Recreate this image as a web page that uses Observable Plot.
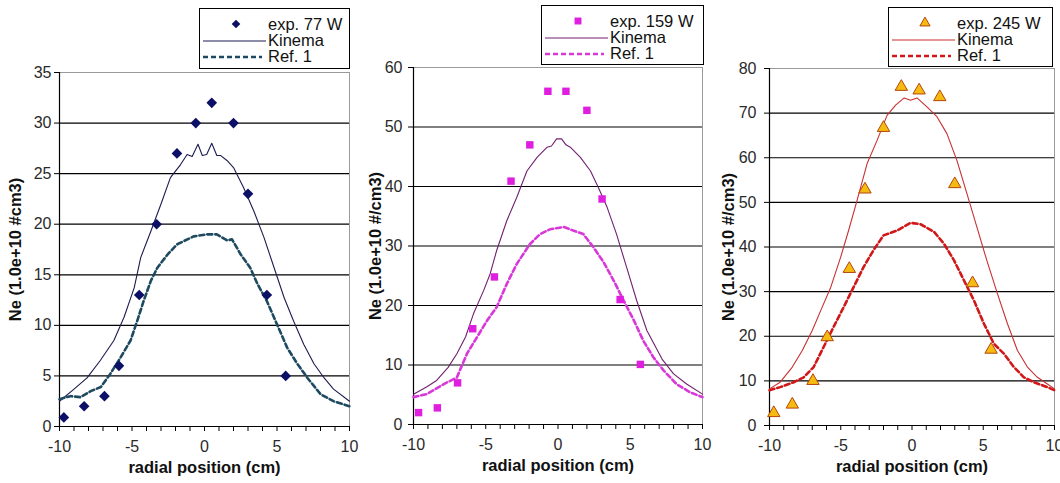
<!DOCTYPE html>
<html>
<head>
<meta charset="utf-8">
<script src="https://cdn.jsdelivr.net/npm/d3@7"></script>
<script src="https://cdn.jsdelivr.net/npm/@observablehq/plot@0.6"></script>
<style>
  html, body { margin: 0; padding: 0; background: #fff; }
  #wrap { position: relative; width: 1060px; height: 483px; overflow: hidden; font-family: "Liberation Sans", Arial, sans-serif; }
  .panel { position: absolute; top: 0; }
  .legend { position: absolute; background: #fff; border: 1px solid #000; box-sizing: border-box; padding-top: 7px; }
  .legend .row { display: flex; align-items: center; height: 16px; font-size: 16.5px; line-height: 16px; color: #111; }
  .legend svg { flex: none; }
</style>
</head>
<body>
<div id="wrap"></div>
<script>
// ---------- Data ----------
// Panel 1: 77 W
const exp77X = [-9.7, -8.3, -6.9, -5.9, -4.5, -3.3, -1.9, -0.6, 0.5, 2.0, 3.0, 4.3, 5.6];
const exp77Y = [0.9, 2.0, 3.0, 6.0, 13.0, 20.0, 27.0, 30.0, 32.0, 30.0, 23.0, 13.0, 5.0];
const kin77X = [-10, -9.0, -8.1, -7.2, -6.25, -5.55, -4.85, -4.4, -3.7, -3.0, -2.35, -1.65, -1.2, -0.85, -0.45, -0.15, 0.15, 0.5, 0.85, 1.1, 1.55, 2.0, 2.7, 3.4, 4.1, 4.8, 5.5, 6.15, 6.85, 7.55, 8.25, 8.9, 10];
const kin77Y = [2.5, 3.7, 4.8, 6.5, 8.5, 10.8, 13.7, 16.7, 19.3, 22.0, 24.6, 25.9, 26.9, 26.7, 27.9, 26.8, 26.9, 28.0, 26.8, 26.8, 26.3, 25.6, 23.6, 21.3, 18.7, 15.7, 12.7, 10.4, 8.1, 6.2, 4.8, 3.7, 2.5];
const ref77X = [-10, -9.25, -8.55, -7.85, -7.15, -6.5, -5.8, -5.1, -4.65, -4.2, -3.7, -3.25, -2.55, -1.9, -0.75, 0.2, 0.85, 1.55, 1.9, 2.5, 3.15, 3.65, 4.3, 5.0, 5.7, 6.4, 7.1, 8.0, 8.9, 10];
const ref77Y = [2.7, 3.0, 2.9, 3.5, 3.9, 5.2, 6.8, 8.5, 10.4, 12.4, 14.4, 15.7, 17.0, 18.0, 18.8, 19.0, 19.0, 18.4, 18.5, 17.0, 15.7, 14.1, 12.4, 10.1, 7.8, 6.2, 4.8, 3.2, 2.5, 2.0];

// Panel 2: 159 W
const exp159X = [-9.65, -8.35, -6.95, -5.9, -4.4, -3.25, -1.95, -0.7, 0.55, 2.0, 3.05, 4.3, 5.7];
const exp159Y = [2.0, 2.8, 7.0, 16.1, 24.8, 40.9, 47.0, 56.0, 56.0, 52.8, 37.9, 21.0, 10.1];
const kin159X = [-10, -9.1, -8.4, -7.6, -7.0, -6.4, -5.85, -5.15, -4.7, -4.25, -3.55, -2.85, -2.15, -1.45, -0.75, -0.45, -0.1, 0.25, 0.55, 0.85, 1.55, 2.25, 2.8, 3.4, 4.05, 4.75, 5.45, 6.15, 7.2, 8.0, 8.9, 10];
const kin159Y = [5.1, 6.3, 7.4, 9.6, 11.9, 14.7, 18.6, 22.5, 25.3, 29.2, 34.2, 38.2, 42.6, 44.9, 46.6, 46.8, 48.0, 48.0, 47.0, 46.6, 44.9, 42.6, 39.8, 36.5, 32.0, 26.4, 20.8, 15.8, 11.0, 8.5, 6.8, 5.1];
const ref159X = [-10, -9.1, -7.9, -7.0, -6.3, -5.6, -4.9, -4.25, -3.55, -2.85, -1.95, -1.25, -0.55, 0.4, 1.05, 1.75, 2.45, 3.15, 3.85, 4.55, 5.25, 5.9, 6.6, 7.3, 8.2, 9.15, 10];
const ref159Y = [4.6, 5.1, 6.8, 7.9, 11.9, 14.7, 17.5, 19.7, 23.6, 27.0, 30.3, 32.0, 32.8, 33.2, 32.6, 32.0, 29.8, 27.3, 24.2, 20.8, 17.5, 14.1, 11.3, 9.1, 6.8, 5.4, 4.6];

// Panel 3: 245 W
const exp245X = [-9.7, -8.4, -6.95, -5.95, -4.4, -3.3, -2.0, -0.75, 0.5, 1.95, 3.0, 4.25, 5.55];
const exp245Y = [2.8, 4.7, 10.0, 19.8, 35.1, 52.9, 66.7, 75.9, 75.1, 73.6, 54.1, 31.9, 17.0];
const kin245X = [-10, -9.25, -8.4, -7.7, -7.0, -6.4, -5.7, -5.0, -4.45, -3.85, -3.15, -2.45, -1.75, -1.15, -0.55, -0.1, 0.35, 1.05, 1.75, 2.45, 3.15, 3.85, 4.55, 5.25, 6.0, 6.7, 7.4, 8.1, 8.8, 9.5, 10];
const kin245Y = [8.2, 9.7, 13.1, 16.8, 21.3, 25.8, 31.0, 37.8, 43.7, 50.5, 58.7, 63.9, 69.5, 71.8, 73.4, 72.9, 73.4, 71.4, 69.2, 65.4, 59.4, 52.0, 44.5, 37.0, 29.5, 22.8, 16.8, 13.1, 10.8, 9.3, 8.2];
const ref245X = [-10, -9.25, -8.3, -7.6, -6.9, -6.2, -5.5, -4.8, -4.1, -3.4, -2.7, -2.0, -1.05, -0.1, 0.6, 1.55, 2.25, 2.95, 3.65, 4.35, 5.05, 5.75, 6.45, 7.15, 7.85, 8.55, 9.5, 10];
const ref245Y = [7.9, 8.6, 9.7, 10.8, 13.1, 17.6, 22.1, 26.5, 31.0, 35.5, 39.3, 42.6, 43.7, 45.4, 45.1, 43.4, 40.7, 37.0, 32.5, 28.0, 22.8, 18.3, 16.1, 13.1, 10.8, 9.7, 8.6, 7.9];

// Axis ticks and labels
const xTicks = d3.range(-10, 11, 1);
const xLabels = [-10, -5, 0, 5, 10];
const yTicks77 = [0, 5, 10, 15, 20, 25, 30, 35];
const yTicks159 = [0, 10, 20, 30, 40, 50, 60];
const yTicks245 = [0, 10, 20, 30, 40, 50, 60, 70, 80];
const xTitle = "radial position (cm)";
const yTitles = ["Ne (1.0e+10 #cm3)", "Ne (1.0e+10 #/cm3)", "Ne (1.0e+10 #/cm3)"];
const seriesNames = [["exp. 77 W", "Kinema", "Ref. 1"], ["exp. 159 W", "Kinema", "Ref. 1"], ["exp. 245 W", "Kinema", "Ref. 1"]];

const zip = (xs, ys) => xs.map((x, i) => ({x, y: ys[i]}));

const panels = [
  {left: 0, width: 355, mt: 72, mb: 57, ml: 59, mr: 6, yMax: 35, yTicks: yTicks77, pad: 3, yOff: 50,
   exp: zip(exp77X, exp77Y), kin: zip(kin77X, kin77Y), ref: zip(ref77X, ref77Y),
   symbol: "diamond2", fill: "#0c0f66", stroke: "none", r: 4.8, kinColor: "#1c1c50", refColor: "#1d4a60", dash: "5,3",
   legend: {left: 199, top: 8, width: 151, height: 61}},
  {left: 355, width: 352, mt: 67, mb: 59, ml: 58, mr: 5, yMax: 60, yTicks: yTicks159, pad: 6, yOff: 44,
   exp: zip(exp159X, exp159Y), kin: zip(kin159X, kin159Y), ref: zip(ref159X, ref159Y),
   symbol: "square", fill: "#e01ee0", stroke: "none", r: 4.2, kinColor: "#702070", refColor: "#d838d8", dash: "5,3",
   legend: {left: 541, top: 5, width: 163, height: 60}},
  {left: 707, width: 353, mt: 68, mb: 58, ml: 62, mr: 6, yMax: 80, yTicks: yTicks245, pad: 8, yOff: 47,
   exp: zip(exp245X, exp245Y), kin: zip(kin245X, kin245Y), ref: zip(ref245X, ref245Y),
   symbol: "triangle", fill: "#f6bb10", stroke: "#b4460c", r: 4.6, kinColor: "#c83030", refColor: "#d01818", dash: "5,3",
   legend: {left: 888, top: 7, width: 165, height: 60}}
];

const wrap = document.getElementById("wrap");

panels.forEach((p, i) => {
  const chart = Plot.plot({
    width: p.width,
    height: 483,
    marginTop: p.mt,
    marginBottom: p.mb,
    marginLeft: p.ml,
    marginRight: p.mr,
    style: {fontFamily: "'Liberation Sans', Arial, sans-serif", fontSize: "16px", color: "#2a2a2a", background: "transparent", overflow: "visible"},
    x: {domain: [-10, 10]},
    y: {domain: [0, p.yMax]},
    marks: [
      Plot.frame({stroke: "#9a9a9a", strokeWidth: 1}),
      Plot.ruleY(p.yTicks.filter(v => v > 0 && v < p.yMax), {stroke: "#000", strokeWidth: 1.2}),
      Plot.axisY({ticks: p.yTicks, tickSize: 5, tickPadding: p.pad, tickFormat: d => String(d), stroke: "#000", fontSize: 16,
                  label: yTitles[i], labelAnchor: "center", labelArrow: "none", labelOffset: p.yOff}),
      Plot.axisX({ticks: xTicks, tickSize: 5, tickPadding: 9, stroke: "#000", fontSize: 16,
                  tickFormat: d => xLabels.includes(d) ? String(d) : "",
                  label: xTitle, labelAnchor: "center", labelArrow: "none", labelOffset: 46}),
      Plot.ruleX([-10], {stroke: "#000", strokeWidth: 1.2}),
      Plot.ruleY([0], {stroke: "#000", strokeWidth: 1.2}),
      Plot.line(p.kin, {x: "x", y: "y", stroke: p.kinColor, strokeWidth: 1.1}),
      Plot.line(p.ref, {x: "x", y: "y", stroke: p.refColor, strokeWidth: 2.6, strokeDasharray: p.dash}),
      Plot.dot(p.exp, {x: "x", y: "y", symbol: () => p.symbol, fill: p.fill, stroke: p.stroke, strokeWidth: 1, r: p.r})
    ]
  });
  chart.classList.add("panel");
  chart.style.left = p.left + "px";
  d3.select(chart).selectAll('[aria-label="x-axis label"] text, [aria-label="y-axis label"] text')
    .attr("font-weight", "bold").attr("fill", "#111").attr("font-size", "16.5px");
  wrap.appendChild(chart);

  // Legend box
  const lg = document.createElement("div");
  lg.className = "legend";
  Object.assign(lg.style, {left: p.legend.left + "px", top: p.legend.top + "px", width: p.legend.width + "px", height: p.legend.height + "px"});
  const names = seriesNames[i];
  names.forEach((name, k) => {
    const row = document.createElement("div");
    row.className = "row";
    const sw = d3.create("svg").attr("width", 68).attr("height", 16);
    if (k === 0) {
      sw.append("path").attr("transform", "translate(36,8)")
        .attr("d", d3.symbol(p.symbol === "diamond2" ? d3.symbolDiamond2 : p.symbol === "square" ? d3.symbolSquare : d3.symbolTriangle, p.symbol === "triangle" ? 45 : 48)())
        .attr("fill", p.fill).attr("stroke", p.stroke === "none" ? null : p.stroke);
    } else if (k === 1) {
      sw.append("line").attr("x1", 3).attr("x2", 66).attr("y1", 9).attr("y2", 9).attr("stroke", p.kinColor).attr("stroke-width", 1.2);
    } else {
      sw.append("line").attr("x1", 3).attr("x2", 62).attr("y1", 9).attr("y2", 9).attr("stroke", p.refColor).attr("stroke-width", 2.6).attr("stroke-dasharray", "5,3");
    }
    row.appendChild(sw.node());
    const t = document.createElement("span");
    t.textContent = name;
    row.appendChild(t);
    lg.appendChild(row);
  });
  wrap.appendChild(lg);
});
</script>
</body>
</html>
